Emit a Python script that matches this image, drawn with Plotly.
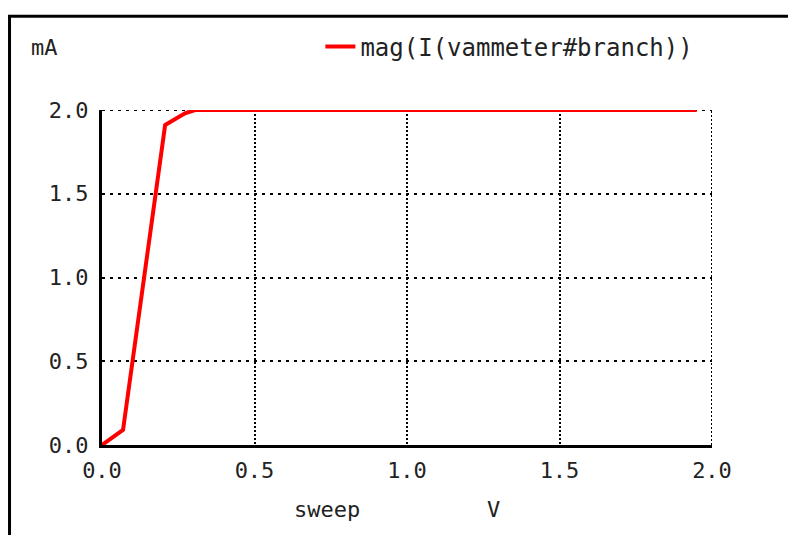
#!/usr/bin/env python3
"""
DC sweep current plot (ngspice style) with Plotly
"""
import plotly.graph_objects as go

# sweep voltage (V) and current magnitude (mA)
sweep_v = [0.0, 0.069, 0.207, 0.272, 0.305, 1.95]
current_ma = [0.0, 0.09, 1.91, 1.98, 2.0, 2.0]

x_ticks = [0.0, 0.5, 1.0, 1.5, 2.0]
y_ticks = [0.0, 0.5, 1.0, 1.5, 2.0]
tick_text = ['0.0', '0.5', '1.0', '1.5', '2.0']

trace_name = 'mag(I(vammeter#branch))'

FONT = 'DejaVu Sans Mono'
TXT = '#222222'
H_DOTS = '3px,5px'   # horizontal grid: sparse dots
V_DOTS = '2px,2px'   # vertical grid: dense dashes

fig = go.Figure()

fig.add_trace(go.Scatter(
    x=sweep_v,
    y=current_ma,
    mode='lines',
    name=trace_name,
    line=dict(color='#ff0000', width=4),
))

axis_common = dict(
    showgrid=True,
    gridcolor='black',
    gridwidth=2,
    zeroline=False,
    showline=True,
    linecolor='black',
    linewidth=3,
    ticks='',
    tickfont=dict(family=FONT, size=22, color=TXT),
)

fig.update_xaxes(range=[0, 2], tickvals=x_ticks, ticktext=tick_text,
                 griddash=V_DOTS, ticklabelstandoff=4, **axis_common)
fig.update_yaxes(range=[0, 2], tickvals=y_ticks, ticktext=tick_text,
                 griddash=H_DOTS, ticklabelstandoff=6, **axis_common)

# dotted top / right borders of the plot
fig.add_shape(type='line', xref='x', yref='y', x0=0, x1=2, y0=2, y1=2,
              layer='below', line=dict(color='black', width=2, dash=H_DOTS))
fig.add_shape(type='line', xref='x', yref='y', x0=2, x1=2, y0=0, y1=2,
              layer='below', line=dict(color='black', width=2, dash=V_DOTS))

# frame lines at top and left of the page
fig.add_shape(type='line', xref='paper', yref='paper',
              x0=-0.155, x1=1.2, y0=1.28, y1=1.28,
              line=dict(color='black', width=3))
fig.add_shape(type='line', xref='paper', yref='paper',
              x0=-0.1516, x1=-0.1516, y0=-0.3, y1=1.28,
              line=dict(color='black', width=3))

fig.add_annotation(text='mA', xref='paper', yref='paper', x=-0.095, y=1.188,
                   xanchor='center', yanchor='middle', showarrow=False,
                   font=dict(family=FONT, size=22, color=TXT))
fig.add_annotation(text='sweep', xref='paper', yref='paper', x=0.369, y=-0.194,
                   xanchor='center', yanchor='middle', showarrow=False,
                   font=dict(family=FONT, size=22, color=TXT))
fig.add_annotation(text='V', xref='paper', yref='paper', x=0.641, y=-0.194,
                   xanchor='center', yanchor='middle', showarrow=False,
                   font=dict(family=FONT, size=22, color=TXT))

fig.update_layout(
    width=796,
    height=535,
    margin=dict(l=94, r=92, t=102, b=98),
    paper_bgcolor='white',
    plot_bgcolor='white',
    showlegend=True,
    legend=dict(
        x=0.358, y=1.188, xanchor='left', yanchor='middle',
        bgcolor='rgba(0,0,0,0)',
        font=dict(family=FONT, size=24, color=TXT),
    ),
)

fig.write_html("out.html")
